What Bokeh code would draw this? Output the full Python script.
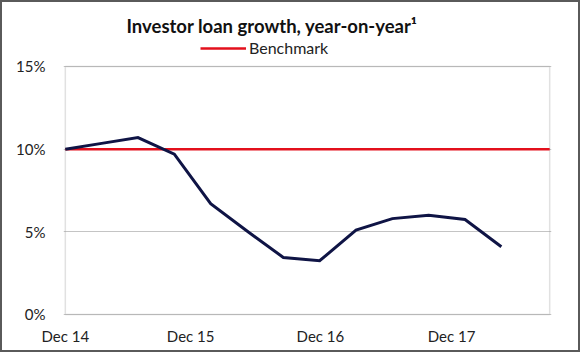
from bokeh.plotting import figure
from bokeh.models import (ColumnDataSource, FixedTicker, Legend, LegendItem, Range1d,
                          BoxAnnotation)
from bokeh.embed import file_html
from bokeh.resources import INLINE

# ---- data ----
quarters = ["Dec 14", "Mar 15", "Jun 15", "Sep 15", "Dec 15", "Mar 16", "Jun 16",
            "Sep 16", "Dec 16", "Mar 17", "Jun 17", "Sep 17", "Dec 17"]
growth_pct = [10.0, 10.35, 10.7, 9.7, 6.7, 5.05, 3.45, 3.25, 5.1, 5.8, 6.0, 5.75, 4.1]
benchmark_pct = 10.0
x_tick_labels = ["Dec 14", "Dec 15", "Dec 16", "Dec 17"]
y_ticks = [0, 5, 10, 15]

# ---- layout constants ----
FONT = "Lato"
X_END = 13.33          # right edge of the plot box (in quarters)
Y_TOP = 15             # top of the plot box (%)
x_label_pos = [0, 3.45, 7.02, 10.63]

src = ColumnDataSource(dict(x=list(range(len(quarters))), y=growth_pct, q=quarters))

W, H = 580, 352
p = figure(width=W, height=H, output_backend="svg", toolbar_location=None,
           x_range=Range1d(-0.05, 13.38), y_range=Range1d(-0.121, 16.754),
           min_border_left=63, min_border_right=29, min_border_top=37,
           min_border_bottom=36)
p.styles = {"background-color": "white", "box-shadow": "inset 0 0 0 2px #5a5a5a"}
p.border_fill_alpha = 0
p.outline_line_color = None
p.background_fill_color = "white"

p.title.text = "Investor loan growth, year-on-year\u00b9"
p.title.align = "left"
p.title.offset = 63
p.title.standoff = 2
p.title.text_font = FONT
p.title.text_font_size = "18.5px"
p.title.text_font_style = "bold"
p.title.text_color = "#111111"

# plot box
p.add_layout(BoxAnnotation(left=0, right=X_END, bottom=0, top=Y_TOP, fill_alpha=0,
                           line_color="#9a9a9a", line_width=1.5, level="underlay"))

# benchmark line across the plot box
bench = p.line(x=[0, X_END], y=[benchmark_pct, benchmark_pct],
               line_color="#e3101c", line_width=2.5)
p.line("x", "y", source=src, line_color="#0f1445", line_width=3, line_join="miter")

legend = Legend(items=[LegendItem(label="Benchmark", renderers=[bench])],
                orientation="horizontal", location=(137, 259),
                label_text_font=FONT, label_text_font_size="16px", label_text_color="#222222",
                glyph_width=46, glyph_height=14, label_standoff=3, label_height=14,
                border_line_color=None, background_fill_alpha=0,
                padding=0, margin=0, spacing=0)
p.add_layout(legend, "center")

# axes
p.xaxis.ticker = FixedTicker(ticks=x_label_pos)
p.xaxis.major_label_overrides = dict(zip(x_label_pos, x_tick_labels))
p.yaxis.ticker = FixedTicker(ticks=y_ticks)
p.yaxis.major_label_overrides = {v: f"{v}%" for v in y_ticks}
for ax in (p.xaxis[0], p.yaxis[0]):
    ax.axis_line_color = None
    ax.major_tick_line_color = None
    ax.minor_tick_line_color = None
    ax.major_label_text_font = FONT
    ax.major_label_text_font_size = "15px"
    ax.major_label_text_color = "#222222"
p.xaxis.major_label_standoff = 4
p.yaxis.major_label_standoff = 12

p.xgrid.grid_line_color = None
p.ygrid.grid_line_color = "#c4c4c4"
p.ygrid.grid_line_width = 1.2

open("out.html", "w").write(file_html(p, INLINE))
